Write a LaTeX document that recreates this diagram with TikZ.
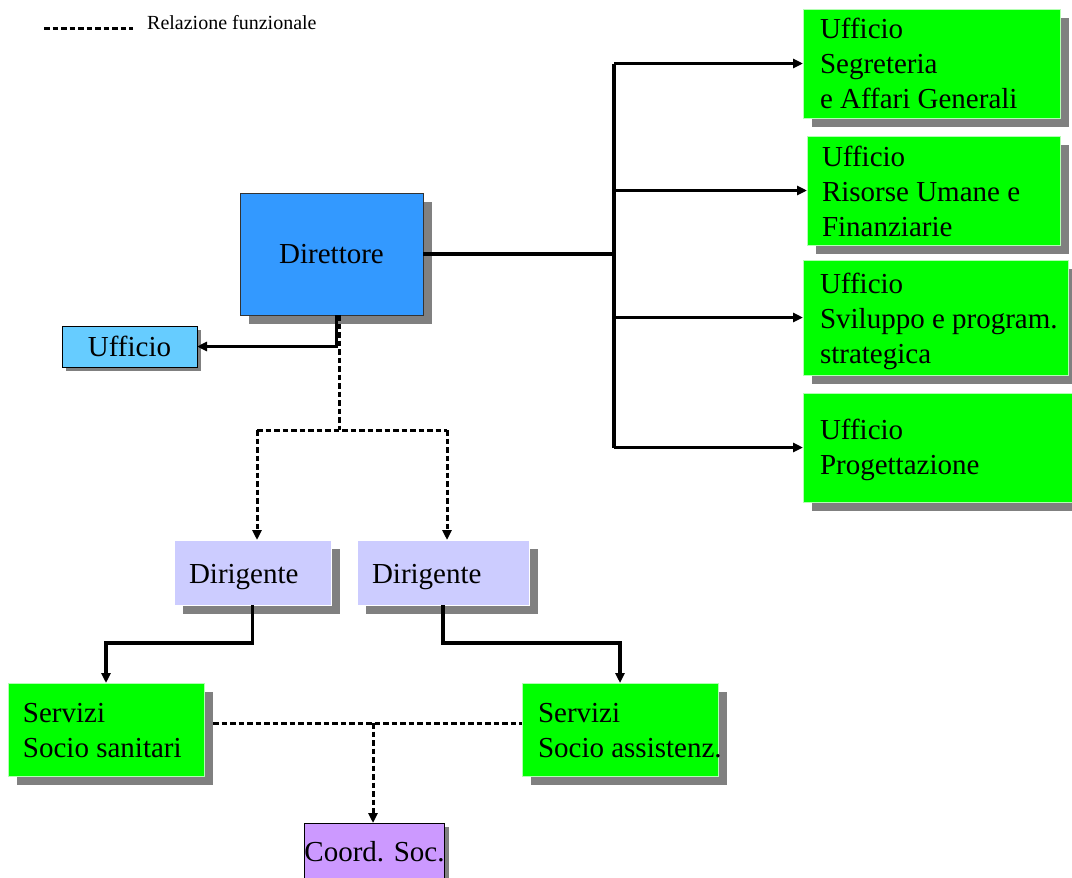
\documentclass[tikz,border=0pt]{standalone}
\usepackage{fontspec}
\setmainfont{Liberation Serif}
\usetikzlibrary{arrows.meta,shadows}
\definecolor{vgreen}{HTML}{00FF00}
\definecolor{dirblue}{HTML}{3399FF}
\definecolor{uffblue}{HTML}{66CCFF}
\definecolor{dirlav}{HTML}{CCCCFF}
\definecolor{coordpur}{HTML}{CC99FF}
\definecolor{shgray}{HTML}{808080}
\begin{document}
\begin{tikzpicture}[x=1pt,y=-1pt,
  box/.style={rectangle, inner sep=0pt, outer sep=0pt},
  shad/.style={general shadow={fill=shgray, shadow xshift=#1, shadow yshift=-#1}},
  bigfont/.style={font=\fontsize{29}{35}\selectfont},
  txt/.style={bigfont, inner sep=0pt, outer sep=0pt, align=left},
  greenbox/.style={box, fill=vgreen, draw=white!70!vgreen, line width=0.6pt, shad=9pt},
  conn/.style={draw=black, line width=3.2pt},
  arr/.style={-{Triangle[length=10pt,width=9pt]}},
  dashc/.style={draw=black, line width=3pt, dash pattern=on 5.5pt off 3pt}
]
\useasboundingbox (0,0) rectangle (1072,878);

% legend
\coordinate (lg1) at (44,28);
\coordinate (lg2) at (133,28);
\draw[dashc] (lg1) -- (lg2);
\node[inner sep=0pt, anchor=base west, font=\fontsize{20}{24}\selectfont] (legend) at (147,29) {Relazione funzionale};

% Direttore and small Ufficio
\node[box, fill=dirblue, draw=black!80, line width=0.8pt, shad=9pt,
      minimum width=183pt, minimum height=122pt, bigfont] (dir) at (331.5,254) {Direttore};
\node[box, fill=uffblue, draw=black, line width=0.8pt, shad=4pt,
      minimum width=135pt, minimum height=41pt, bigfont] (uff) at (129.5,346.5) {Ufficio};

% right offices (anchor base = baseline of last line)
\node[greenbox, minimum width=257pt, minimum height=109pt] (b1) at (931.5,63.5) {};
\node[txt, anchor=base west] (b1t) at (820,108) {Ufficio\\Segreteria\\e Affari Generali};
\node[greenbox, minimum width=253pt, minimum height=109pt] (b2) at (933.5,190.5) {};
\node[txt, anchor=base west] (b2t) at (822,236) {Ufficio\\Risorse Umane e\\Finanziarie};
\node[greenbox, minimum width=265pt, minimum height=115pt] (b3) at (935.5,317.5) {};
\node[txt, anchor=base west] (b3t) at (820,363) {Ufficio\\Sviluppo e program.\\strategica};
\node[greenbox, minimum width=282pt, minimum height=109pt] (b4) at (944,447.5) {};
\node[txt, anchor=base west] (b4t) at (820,474) {Ufficio\\Progettazione};

% Dirigenti
\node[box, fill=dirlav, draw=white, line width=0.6pt, shad=9pt,
      minimum width=157pt, minimum height=65pt] (dg1) at (252.5,572.5) {};
\node[txt, anchor=base west] (dg1t) at (189,583) {Dirigente};
\node[box, fill=dirlav, draw=white, line width=0.6pt, shad=9pt,
      minimum width=172pt, minimum height=65pt] (dg2) at (443,572.5) {};
\node[txt, anchor=base west] (dg2t) at (372,583) {Dirigente};

% Servizi
\node[greenbox, minimum width=196pt, minimum height=93pt] (sv1) at (106,729.5) {};
\node[txt, anchor=base west] (sv1t) at (23,757) {Servizi\\Socio sanitari};
\node[greenbox, minimum width=196pt, minimum height=93pt] (sv2) at (620,729.5) {};
\node[txt, anchor=base west] (sv2t) at (538,757) {Servizi\\Socio assistenz.};

% Coord
\node[box, fill=coordpur, draw=black, line width=0.8pt, shad=4pt,
      minimum width=135pt, minimum height=58pt, bigfont] (coord) at (374.5,852) {Coord. Soc.};

% connectors: Direttore -> right offices
\coordinate (spine) at (614,254);
\draw[conn] (dir.east) -- (spine);
\draw[conn] (spine |- b1.west) -- (spine |- b4.west);
\draw[conn, arr] (spine |- b1.west) -- (b1.west);
\draw[conn, arr] (spine |- b2.west) -- (b2.west);
\draw[conn, arr] (spine |- b3.west) -- (b3.west);
\draw[conn, arr] (spine |- b4.west) -- (b4.west);

% Direttore -> Ufficio
\draw[conn, arr] ([xshift=5pt]dir.south) |- (uff.east);

% Direttore -> Dirigenti (functional)
\coordinate (dj) at (339,430);
\coordinate (dl) at (257,430);
\coordinate (dr) at (447,430);
\draw[dashc] ([xshift=7.5pt]dir.south) -- (dj);
\draw[dashc] (dl) -- (dr);
\draw[dashc, arr] (dl) -- (dl |- dg1.north);
\draw[dashc, arr] (dr) -- (dr |- dg2.north);

% Dirigenti -> Servizi
\draw[conn, arr] (dg1.south) -- ++(0,38) -| (sv1.north);
\draw[conn, arr] (dg2.south) -- ++(0,38) -| (sv2.north);

% Servizi -> Coord
\coordinate (sj) at (373,723);
\draw[dashc] ([xshift=9pt]sv1.east |- sj) -- (sv2.west |- sj);
\draw[dashc, arr] (sj) -- (sj |- coord.north);
\end{tikzpicture}
\end{document}
